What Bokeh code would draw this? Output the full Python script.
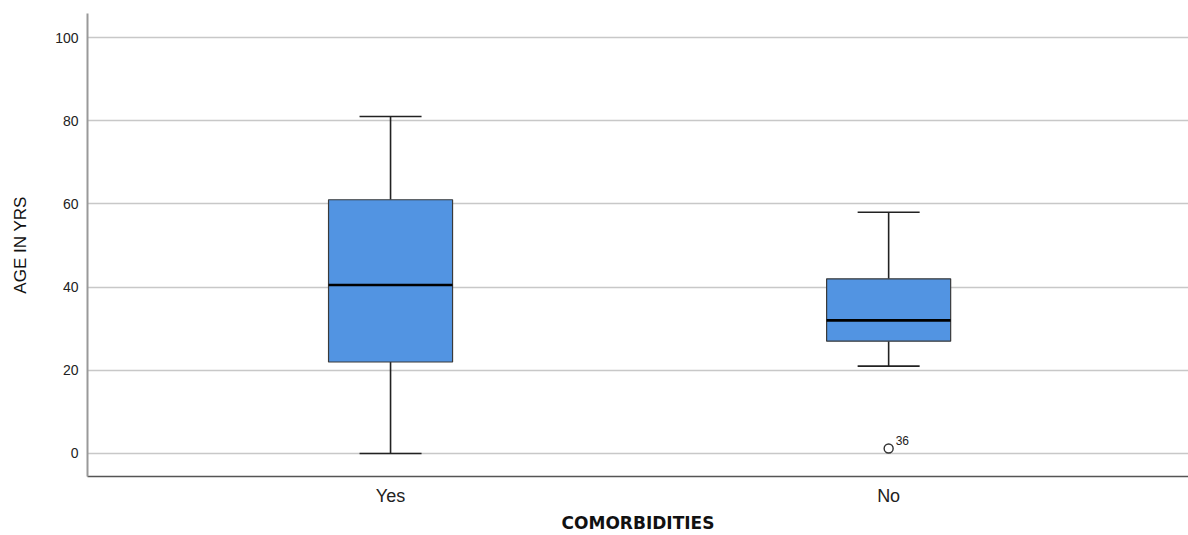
from bokeh.plotting import figure
from bokeh.models import FixedTicker, Range1d
from bokeh.core.properties import value
from bokeh.embed import file_html
from bokeh.resources import INLINE

categories = ["Yes", "No"]
positions = [1, 2]
lower_whisker = [0, 21]
q1 = [22, 27]
median = [40.5, 32]
q3 = [61, 42]
upper_whisker = [81, 58]
outlier_cat = [2]
outlier_val = [1.2]
outlier_label = ["36"]
y_ticks = [0, 20, 40, 60, 80, 100]

box_w = 0.249
cap_w = 0.1245

p = figure(width=1188, height=535, output_backend="svg", toolbar_location=None,
           x_range=Range1d(0.3916, 2.602), y_range=Range1d(-5.53, 105.77),
           min_border_left=87, min_border_right=0, min_border_top=13, min_border_bottom=59)
p.outline_line_color = None
p.background_fill_color = "white"
p.border_fill_color = "white"

p.xgrid.visible = False
p.ygrid.grid_line_color = "#c8c8c8"
p.ygrid.grid_line_width = 1.5

# whiskers
lefts = [x - box_w / 2 for x in positions]
rights = [x + box_w / 2 for x in positions]
p.segment(positions, upper_whisker, positions, q3, line_color="#222222", line_width=1.6)
p.segment(positions, lower_whisker, positions, q1, line_color="#222222", line_width=1.6)
p.segment([x - cap_w / 2 for x in positions], upper_whisker,
          [x + cap_w / 2 for x in positions], upper_whisker, line_color="#222222", line_width=1.6)
p.segment([x - cap_w / 2 for x in positions], lower_whisker,
          [x + cap_w / 2 for x in positions], lower_whisker, line_color="#222222", line_width=1.6)
# boxes
p.quad(left=lefts, right=rights, bottom=q1, top=q3, fill_color="#5294e2",
       line_color="#3a3a3a", line_width=1.2)
p.segment(lefts, median, rights, median, line_color="black", line_width=2.6)

# outlier
p.scatter(outlier_cat, outlier_val, marker="circle", size=9, fill_color=None,
          line_color="#333333", line_width=1.4)
p.text(outlier_cat, outlier_val, text=outlier_label, x_offset=7, y_offset=-4,
       text_font=value("Liberation Sans"), text_font_size="12px",
       text_color="#222222", text_baseline="bottom")

# axes
p.xaxis.ticker = FixedTicker(ticks=positions)
p.xaxis.major_label_overrides = {pos: c for pos, c in zip(positions, categories)}
p.xaxis.major_tick_line_color = None
p.xaxis.minor_tick_line_color = None
p.xaxis.major_label_text_font = "Liberation Sans"
p.xaxis.major_label_text_font_size = "18px"
p.xaxis.major_label_text_color = "#222222"
p.xaxis.major_label_standoff = 3
p.xaxis.axis_line_color = "#555555"
p.xaxis.axis_line_width = 1.5
p.xaxis.axis_label = "COMORBIDITIES"
p.xaxis.axis_label_text_font = "DejaVu Sans"
p.xaxis.axis_label_text_font_size = "17px"
p.xaxis.axis_label_text_font_style = "bold"
p.xaxis.axis_label_text_color = "#111111"
p.xaxis.axis_label_standoff = 4

p.yaxis.ticker = FixedTicker(ticks=y_ticks)
p.yaxis.major_tick_line_color = None
p.yaxis.minor_tick_line_color = None
p.yaxis.major_label_text_font = "Liberation Sans"
p.yaxis.major_label_text_font_size = "14px"
p.yaxis.major_label_text_color = "#222222"
p.yaxis.major_label_standoff = 3
p.yaxis.axis_line_color = "#999999"
p.yaxis.axis_line_width = 2
p.yaxis.axis_label = "AGE IN YRS"
p.yaxis.axis_label_text_font = "Liberation Sans"
p.yaxis.axis_label_text_font_size = "17px"
p.yaxis.axis_label_text_font_style = "normal"
p.yaxis.axis_label_text_color = "#111111"
p.yaxis.axis_label_standoff = 22

open("out.html", "w").write(file_html(p, INLINE))
